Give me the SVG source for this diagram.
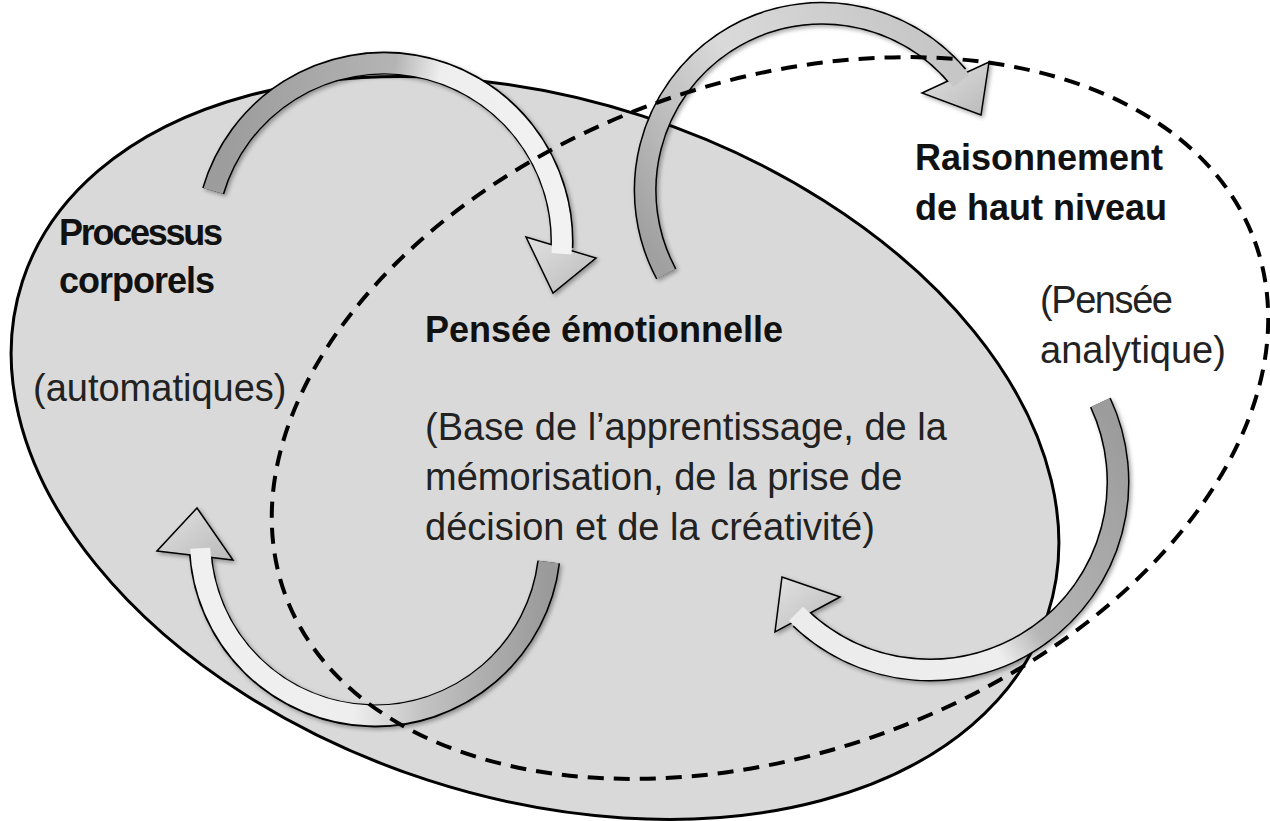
<svg xmlns="http://www.w3.org/2000/svg" width="1270" height="821" viewBox="0 0 1270 821">
  <style>
    .bold { font-family: "Liberation Sans", Arial, sans-serif; font-weight: bold; font-size: 36px; fill: #111; }
    .reg { font-family: "Liberation Sans", Arial, sans-serif; font-size: 38px; fill: #222; }
    .outline { fill: none; stroke: #000; stroke-width: 23; stroke-linecap: butt; }
    .band { fill: none; stroke-width: 20; stroke-linecap: butt; }
    .head { fill: url(#headGrad); stroke: #000; stroke-width: 1.5; stroke-linejoin: miter; }
  </style>
  <defs>
    <filter id="sh" x="-20%" y="-20%" width="140%" height="140%">
      <feDropShadow dx="2" dy="2" stdDeviation="2" flood-color="#000" flood-opacity="0.35"/>
    </filter>
    <linearGradient id="headGrad" x1="0" y1="0" x2="1" y2="1">
      <stop offset="0" stop-color="#e2e2e2"/>
      <stop offset="1" stop-color="#b9b9b9"/>
    </linearGradient>
    <linearGradient id="g1" gradientUnits="userSpaceOnUse" x1="213" y1="191" x2="562" y2="248">
      <stop offset="0" stop-color="#9c9c9c"/>
      <stop offset="0.45" stop-color="#b4b4b4"/>
      <stop offset="0.58" stop-color="#eeeeee"/>
      <stop offset="1" stop-color="#f2f2f2"/>
    </linearGradient>
    <linearGradient id="g2" gradientUnits="userSpaceOnUse" x1="666" y1="274" x2="957" y2="76">
      <stop offset="0" stop-color="#a0a0a0"/>
      <stop offset="0.5" stop-color="#dadada"/>
      <stop offset="1" stop-color="#c6c6c6"/>
    </linearGradient>
    <linearGradient id="g3" gradientUnits="userSpaceOnUse" x1="1100" y1="402" x2="800" y2="618">
      <stop offset="0" stop-color="#9c9c9c"/>
      <stop offset="0.5" stop-color="#b6b6b6"/>
      <stop offset="0.62" stop-color="#eeeeee"/>
      <stop offset="1" stop-color="#ececec"/>
    </linearGradient>
    <linearGradient id="g4" gradientUnits="userSpaceOnUse" x1="549" y1="562" x2="200" y2="554">
      <stop offset="0" stop-color="#9a9a9a"/>
      <stop offset="0.35" stop-color="#c2c2c2"/>
      <stop offset="0.55" stop-color="#eeeeee"/>
      <stop offset="1" stop-color="#f0f0f0"/>
    </linearGradient>
  </defs>

  <rect x="0" y="0" width="1270" height="821" fill="#ffffff"/>

  <g id="node-emotionnelle">
    <ellipse cx="535" cy="448" rx="539" ry="349" transform="rotate(18 535 448)" fill="#d9d9d9" stroke="#000" stroke-width="3"/>
  </g>

  <g id="connectors">
    <g id="arrow-corps-emotion" filter="url(#sh)">
      <path class="outline" d="M 213.2 191 A 178 178 0 0 1 561.9 247.5"/>
      <polygon class="head" points="526,237 596,258 553,293"/>
      <path class="band" stroke="url(#g1)" d="M 213.2 191 A 178 178 0 0 1 561.5 253.7"/>
    </g>
    <g id="arrow-emotion-raison" filter="url(#sh)">
      <path class="outline" d="M 666.2 273.9 A 177 177 0 0 1 957.4 76"/>
      <polygon class="head" points="922,93 989,62 981,115"/>
      <path class="band" stroke="url(#g2)" d="M 666.2 273.9 A 177 177 0 0 1 961.3 80.8"/>
    </g>
    <g id="arrow-raison-emotion" filter="url(#sh)">
      <path class="outline" d="M 1100.4 402.6 A 188 188 0 0 1 800.6 618.4"/>
      <polygon class="head" points="840,597 775,632 782,577"/>
      <path class="band" stroke="url(#g3)" d="M 1100.4 402.6 A 188 188 0 0 1 795.9 613.8"/>
    </g>
    <g id="arrow-emotion-corps" filter="url(#sh)">
      <path class="outline" d="M 548.7 562 A 175 175 0 0 1 200.5 554.4"/>
      <polygon class="head" points="157,551 233,560 197,508"/>
      <path class="band" stroke="url(#g4)" d="M 548.7 562 A 175 175 0 0 1 200.2 548.3"/>
    </g>
  </g>

  <g id="node-raisonnement">
    <ellipse cx="770" cy="418" rx="516" ry="335" transform="rotate(-20 770 418)" fill="none" stroke="#000" stroke-width="4" stroke-dasharray="16 10"/>
  </g>

  <g id="labels">
    <g id="label-corporels">
      <text class="bold" x="59" y="245" textLength="164">Processus</text>
      <text class="bold" x="59" y="293" textLength="156">corporels</text>
      <text class="reg" x="33" y="401">(automatiques)</text>
    </g>
    <g id="label-emotionnelle">
      <text class="bold" x="425" y="342">Pensée émotionnelle</text>
      <text class="reg" x="425" y="440">(Base de l’apprentissage, de la</text>
      <text class="reg" x="425" y="490">mémorisation, de la prise de</text>
      <text class="reg" x="425" y="540">décision et de la créativité)</text>
    </g>
    <g id="label-raisonnement">
      <text class="bold" x="915" y="170">Raisonnement</text>
      <text class="bold" x="915" y="220">de haut niveau</text>
      <text class="reg" x="1040" y="313" textLength="133">(Pensée</text>
      <text class="reg" x="1040" y="363">analytique)</text>
    </g>
  </g>
</svg>
